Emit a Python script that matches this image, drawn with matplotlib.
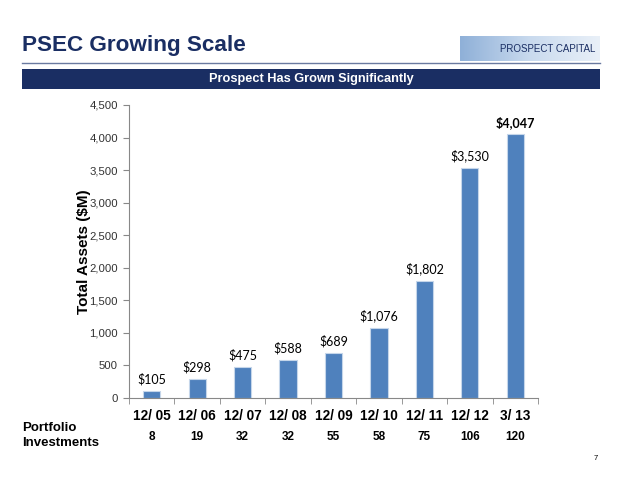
import matplotlib
matplotlib.use("Agg")
import matplotlib.pyplot as plt
from matplotlib.patches import Rectangle
from matplotlib.colors import LinearSegmentedColormap
import numpy as np

categories = ["12/ 05", "12/ 06", "12/ 07", "12/ 08", "12/ 09", "12/ 10", "12/ 11", "12/ 12", "3/ 13"]
total_assets = [105, 298, 475, 588, 689, 1076, 1802, 3530, 4047]
value_labels = ["$105", "$298", "$475", "$588", "$689", "$1,076", "$1,802", "$3,530", "$4,047"]
portfolio_investments = ["8", "19", "32", "32", "55", "58", "75", "106", "120"]
yticks = [0, 500, 1000, 1500, 2000, 2500, 3000, 3500, 4000, 4500]

navy = "#1a2e63"
fig = plt.figure(figsize=(6.38, 4.79), dpi=100)
fig.patch.set_facecolor("white")

W, H = 638, 479
def fx(px): return px / W
def fy(py): return 1 - py / H

# Title
fig.text(fx(22), fy(46), "PSEC Growing Scale", fontsize=16.2, fontweight="bold",
         color=navy, family="Liberation Sans", va="center", ha="left")
# underline
fig.add_artist(plt.Line2D([fx(22), fx(600)], [fy(63), fy(63)], color="#6a7aa0", lw=1.0))
# banner
fig.add_artist(Rectangle((fx(22), fy(89)), fx(600) - fx(22), fy(69) - fy(89),
                         transform=fig.transFigure, facecolor=navy, edgecolor="none"))
fig.text((fx(22) + fx(600)) / 2, fy(79), "Prospect Has Grown Significantly", color="white",
         fontsize=9.2, fontweight="bold", family="Liberation Sans", ha="center", va="center")
# logo
logo_ax = fig.add_axes([fx(460), fy(61), fx(600) - fx(460), fy(36) - fy(61)])
grad = np.linspace(0, 1, 200)[None, :]
grad = np.vstack([grad] * 10)
cmap = LinearSegmentedColormap.from_list("lg", ["#8fb0d8", "#c9daee", "#e9f0f8"])
logo_ax.imshow(grad, aspect="auto", cmap=cmap, extent=[0, 1, 0, 1])
logo_ax.set_axis_off()
logo_ax.text(0.97, 0.5, "PROSPECT CAPITAL", color=navy, fontsize=7, ha="right", va="center",
             family="Liberation Sans", transform=logo_ax.transAxes)

# Main axes
ax = fig.add_axes([fx(129), fy(398), fx(538) - fx(129), fy(105) - fy(398)])
x = np.arange(len(categories))
ax.bar(x, total_assets, width=0.38, color="#4f81bd", edgecolor="#c5d6ea", linewidth=0.8)
ax.set_xlim(-0.5, len(categories) - 0.5)
ax.set_ylim(0, 4500)
ax.set_yticks(yticks)
ax.set_yticklabels([f"{v:,}" for v in yticks], fontsize=8.2, family="Liberation Sans", color="#333333")
ax.set_xticks(x)
ax.set_xticklabels(categories, fontsize=9.8, fontweight="bold", family="Liberation Sans")
ax.set_xticks(np.arange(-0.5, len(categories), 1), minor=True)
ax.tick_params(axis="x", which="major", length=0, pad=8)
ax.tick_params(axis="x", which="minor", length=4, color="#888888", direction="out")
ax.tick_params(axis="y", length=4, color="#888888", direction="out", pad=4)
for s in ["top", "right"]:
    ax.spines[s].set_visible(False)
for s in ["left", "bottom"]:
    ax.spines[s].set_color("#888888")
    ax.spines[s].set_linewidth(0.8)

for i, (v, lab) in enumerate(zip(total_assets, value_labels)):
    ax.annotate(lab, (x[i], v), xytext=(0, 4), textcoords="offset points", ha="center",
                va="bottom", fontsize=9, family="Lato",
                fontweight="bold" if i == len(categories) - 1 else "normal")

fig.text(fx(84), (fy(398) + fy(105)) / 2, "Total Assets ($M)", fontsize=11, fontweight="bold",
         family="Liberation Sans", rotation=90, ha="center", va="center")

# Portfolio investments row
fig.text(fx(22), fy(435.5), "Portfolio\nInvestments", fontsize=9.5, fontweight="bold",
         family="Liberation Sans", ha="left", va="center", linespacing=1.25)
for i, n in enumerate(portfolio_investments):
    xd = ax.transData.transform((x[i], 0))[0]
    fig.text(xd / fig.bbox.width, fy(437), n, fontsize=8.5, fontweight="bold",
             family="Liberation Sans", ha="center", va="center")

fig.text(fx(596), fy(458), "7", fontsize=5.5, family="Liberation Sans", ha="center", va="center")

fig.savefig("out.png", dpi=100)
